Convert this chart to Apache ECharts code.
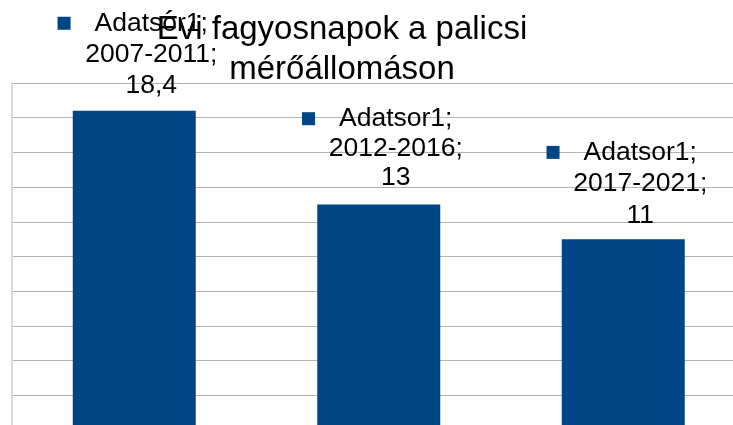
<!DOCTYPE html>
<html>
<head>
<meta charset="utf-8">
<script src="https://cdn.jsdelivr.net/npm/echarts@6/dist/echarts.min.js"></script>
<style>
  html, body { margin: 0; padding: 0; background: #fff; }
  #main { width: 733px; height: 425px; }
</style>
</head>
<body>
<div id="main"></div>
<script>
  // adatok
  var seriesName = 'Adatsor1';
  var categories = ['2007-2011', '2012-2016', '2017-2021'];
  var values = [18.4, 13, 11];
  var labelLines = [31, 29.5, 31.5];
  var labelDist = [10, 12, 8];

  var myChart = echarts.init(document.getElementById('main'));

  var barData = [];
  for (var i = 0; i < values.length; i++) {
    barData[i] = {
      value: values[i],
      label: {
        distance: labelDist[i],
        rich: {
          m: { width: 13, height: 13, backgroundColor: '#004586' },
          g: { width: 24, height: 13 },
          s: { width: 37, height: 13 },
          t: { fontSize: 26.5, lineHeight: labelLines[i], color: '#000', fontFamily: 'Liberation Sans' }
        }
      }
    };
  }

  var option = {
    animation: false,
    title: {
      text: 'Évi fagyosnapok a palicsi\nmérőállomáson',
      left: 342,
      top: 10,
      padding: 0,
      textAlign: 'center',
      textStyle: {
        fontFamily: 'Liberation Sans',
        fontSize: 33,
        lineHeight: 40,
        fontWeight: 'normal',
        color: '#000'
      }
    },
    grid: {
      left: 12,
      top: 83,
      width: 733.5,
      height: 347,
      outerBoundsMode: 'none'
    },
    xAxis: {
      type: 'category',
      data: categories,
      axisLine: { show: false },
      axisTick: { show: false },
      axisLabel: { show: false }
    },
    yAxis: {
      type: 'value',
      min: 0,
      max: 20,
      interval: 2,
      axisLabel: { show: false },
      axisTick: { show: false },
      axisLine: { show: true, lineStyle: { color: '#d9d9d9', width: 2 } },
      splitLine: { lineStyle: { color: '#b3b3b3', width: 1 } }
    },
    series: [{
      name: seriesName,
      type: 'bar',
      barWidth: 123,
      itemStyle: { color: '#004586' },
      label: {
        show: true,
        position: 'top',
        offset: [17, 0],
        formatter: function (p) {
          return '{m|}{g|}{t|' + p.seriesName + ';}{s|}\n{t|' + p.name + ';}\n{t|' +
            String(p.value).replace('.', ',') + '}';
        }
      },
      data: barData
    }]
  };

  myChart.setOption(option);
</script>
</body>
</html>
